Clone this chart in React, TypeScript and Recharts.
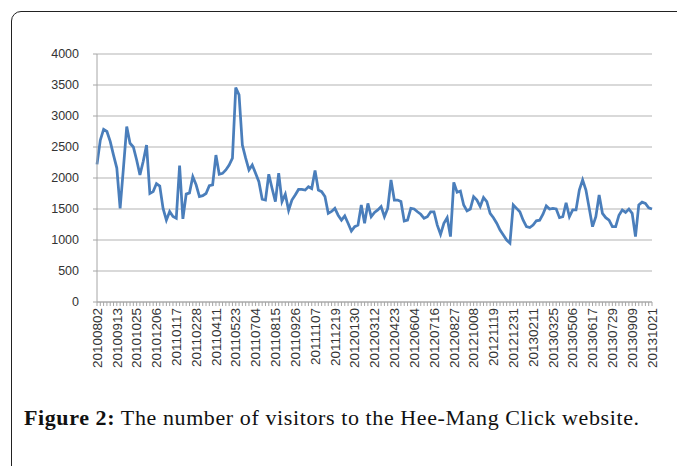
import React from "react";
import { LineChart, Line, XAxis, YAxis, CartesianGrid } from "recharts";

const tickLabels = [
  "20100802", "20100913", "20101025", "20101206", "20110117", "20110228",
  "20110411", "20110523", "20110704", "20110815", "20110926", "20111107",
  "20111219", "20120130", "20120312", "20120423", "20120604", "20120716",
  "20120827", "20121008", "20121119", "20121231", "20130211", "20130325",
  "20130506", "20130617", "20130729", "20130909", "20131021",
];

const visitors = [
  2220, 2610, 2785, 2750, 2590, 2370, 2160, 1510, 2160, 2830,
  2560, 2500, 2290, 2050, 2270, 2530, 1750, 1780, 1910, 1870,
  1510, 1320, 1460, 1380, 1350, 2200, 1340, 1740, 1760, 2020,
  1890, 1700, 1715, 1750, 1875, 1890, 2370, 2060, 2075, 2130,
  2210, 2320, 3460, 3340, 2530, 2320, 2130, 2210, 2075, 1940,
  1660, 1645, 2060, 1830, 1620, 2080, 1620, 1740, 1480, 1645,
  1725, 1815, 1815, 1805, 1860, 1830, 2120, 1805, 1780, 1700,
  1430, 1460, 1510, 1400, 1320, 1390, 1270, 1145, 1215, 1240,
  1565, 1270, 1590, 1375, 1445, 1485, 1540, 1375, 1510, 1970,
  1645, 1645, 1620, 1305, 1320, 1510, 1500, 1455, 1415, 1350,
  1375, 1455, 1455, 1240, 1090, 1270, 1360, 1055, 1930, 1770,
  1790, 1565, 1470, 1500, 1700, 1645, 1540, 1685, 1620, 1430,
  1360, 1270, 1160, 1080, 1000, 950, 1565, 1510, 1455, 1320,
  1215, 1200, 1240, 1310, 1320, 1415, 1550, 1500, 1510, 1500,
  1360, 1375, 1600, 1375, 1485, 1485, 1805, 1970, 1805, 1510,
  1215, 1375, 1725, 1430, 1360, 1320, 1215, 1215, 1400, 1485,
  1445, 1500, 1430, 1055, 1565, 1610, 1590, 1520, 1500,
];

const yTicks = [0, 500, 1000, 1500, 2000, 2500, 3000, 3500, 4000];
const LABEL_EVERY = 6;

const data = visitors.map((v, i) => ({
  week: i,
  label: i % LABEL_EVERY === 0 ? tickLabels[i / LABEL_EVERY] : "",
  visitors: v,
}));

const XTick = (props: any) => {
  const { x, y, payload } = props;
  const label = data[payload.index]?.label ?? "";
  return (
    <g>
      <line x1={x} x2={x} y1={y - 6} y2={y - 2} stroke="#a6a6a6" strokeWidth={1} />
      {label ? (
        <text
          x={x}
          y={y}
          transform={`rotate(-90, ${x}, ${y})`}
          textAnchor="end"
          dy="0.35em"
          fill="#333"
          fontSize={13.5}
          fontFamily="'Liberation Sans', Arial, sans-serif"
        >
          {label}
        </text>
      ) : null}
    </g>
  );
};

export default function App() {
  return (
    <div style={{ position: "absolute", left: 0, top: 0, width: 677, height: 466, background: "#fff", overflow: "hidden" }}>
      <div
        style={{
          position: "absolute",
          left: 11,
          top: 11,
          width: 720,
          height: 520,
          border: "1.5px solid #222",
          borderTopLeftRadius: 10,
          boxSizing: "border-box",
        }}
      />
      <div style={{ position: "absolute", left: 0, top: 0 }}>
        <LineChart
          width={677}
          height={466}
          data={data}
          margin={{ top: 54, right: 25, left: 0, bottom: 0 }}
        >
          <CartesianGrid vertical={false} stroke="#b3b3b3" strokeWidth={1} />
          <XAxis
            dataKey="week"
            type="category"
            interval={0}
            height={164}
            tickSize={4}
            tickMargin={2}
            tickLine={false}
            axisLine={{ stroke: "#a6a6a6" }}
            tick={<XTick />}
          />
          <YAxis
            domain={[0, 4000]}
            ticks={yTicks}
            width={97}
            tickSize={4}
            tickMargin={14}
            axisLine={{ stroke: "#a6a6a6" }}
            tickLine={{ stroke: "#a6a6a6" }}
            tick={{ fill: "#333", fontSize: 12.5, fontFamily: "'Liberation Sans', Arial, sans-serif" }}
          />
          <Line
            type="linear"
            dataKey="visitors"
            stroke="#4a7ebb"
            strokeWidth={2.75}
            dot={false}
            isAnimationActive={false}
          />
        </LineChart>
      </div>
      <div
        style={{
          position: "absolute",
          left: 24,
          top: 405,
          fontFamily: "'Liberation Serif', 'DejaVu Serif', serif",
          fontSize: 22,
          letterSpacing: 0.6,
          color: "#111",
          whiteSpace: "nowrap",
        }}
      >
        <b>Figure 2:</b> The number of visitors to the Hee-Mang Click website.
      </div>
    </div>
  );
}
